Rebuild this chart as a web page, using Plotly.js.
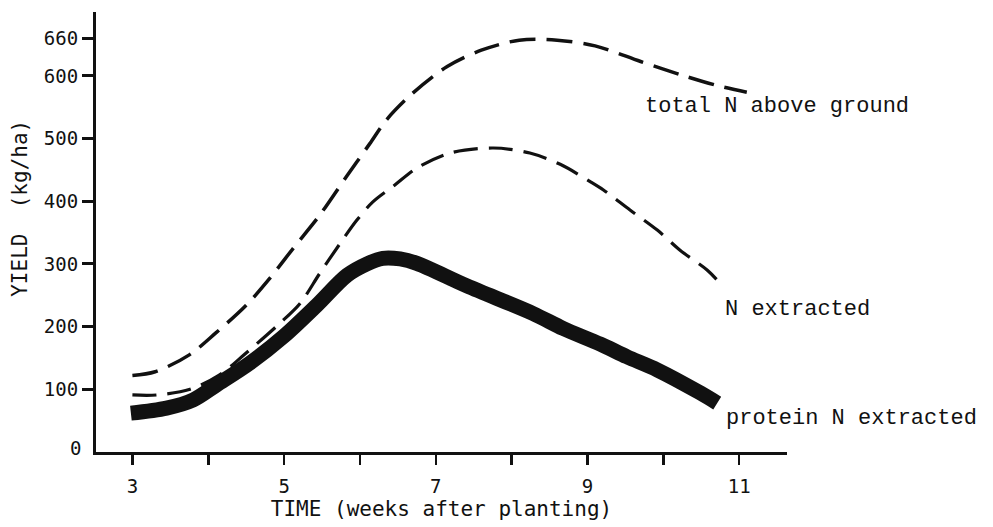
<!DOCTYPE html>
<html>
<head>
<meta charset="utf-8">
<script src="https://cdn.plot.ly/plotly-3.0.1.min.js"></script>
<style>html,body{margin:0;padding:0;background:#fff;}#chart{width:993px;height:527px;}</style>
</head>
<body>
<div id="chart"></div>
<script>
// Data (weeks after planting, kg/ha)
var totalWeeks = [3.0, 3.3, 3.75, 4.1, 4.5, 4.81, 5.12, 5.47, 5.82, 6.13, 6.35, 6.7, 7.15, 7.6, 8.1, 8.6, 9.1, 9.7, 10.25, 10.7, 11.1];
var totalN     = [122, 128, 155, 190, 234, 277, 325, 378, 439, 492, 530, 573, 615, 641, 657, 657, 648, 623, 601, 585, 574];

var extWeeks = [3.0, 3.32, 3.76, 4.15, 4.48, 4.94, 5.21, 5.47, 5.74, 5.96, 6.17, 6.46, 6.75, 7.19, 7.76, 8.24, 8.64, 9.04, 9.21, 9.56, 9.92, 10.22, 10.58, 10.75];
var extN     = [91, 91, 100, 123, 156, 205, 237, 285, 333, 370, 399, 426, 453, 477, 485, 477, 459, 431, 418, 386, 354, 322, 290, 269];

var protWeeks = [2.98, 3.45, 3.8, 4.11, 4.55, 4.99, 5.43, 5.83, 6.09, 6.3, 6.53, 6.75, 7.41, 8.28, 8.68, 9.17, 9.52, 9.92, 10.49, 10.71];
var protN     = [62, 70, 83, 107, 142, 184, 234, 282, 300, 309, 308, 301, 265, 221, 197, 172, 152, 131, 94, 78];

var xTickVals = [3, 4, 5, 6, 7, 8, 9, 10, 11];
var xTickText = ['3', '', '5', '', '7', '', '9', '', '11'];
var yTickVals = [100, 200, 300, 400, 500, 600, 660];
var yTickText = ['100', '200', '300', '400', '500', '600', '660'];

var labelTotal = 'total N above ground';
var labelExt = 'N extracted';
var labelProt = 'protein N extracted';

var ink = '#111111';
var tickFont = {family: 'DejaVu Sans Mono, monospace', size: 19, color: ink};
var noteFont = {family: 'Liberation Mono, Courier New, monospace', size: 22, color: ink};

var traces = [
  {x: totalWeeks, y: totalN, mode: 'lines', line: {color: ink, width: 3.5, dash: '26px,11px', shape: 'spline', smoothing: 0.9}, hoverinfo: 'skip'},
  {x: extWeeks, y: extN, mode: 'lines', line: {color: ink, width: 3.2, dash: '24px,11px', shape: 'spline', smoothing: 0.9}, hoverinfo: 'skip'},
  {x: protWeeks, y: protN, mode: 'lines', line: {color: ink, width: 15, shape: 'spline', smoothing: 0.9}, hoverinfo: 'skip'}
];

var layout = {
  width: 993, height: 527,
  margin: {l: 96, r: 206, t: 12, b: 75},
  paper_bgcolor: '#ffffff', plot_bgcolor: '#ffffff',
  showlegend: false,
  xaxis: {
    range: [2.52, 11.63], showgrid: false, zeroline: false,
    showline: true, linecolor: ink, linewidth: 3,
    ticks: 'outside', ticklen: 10, tickwidth: 2.5, tickcolor: ink,
    tickvals: xTickVals, ticktext: xTickText, tickfont: tickFont,
    ticklabelstandoff: 5,
    title: {text: 'TIME (weeks after planting)', font: {family: 'DejaVu Sans Mono, monospace', size: 21, color: ink}, standoff: 4}
  },
  yaxis: {
    range: [0, 702], showgrid: false, zeroline: false,
    showline: true, linecolor: ink, linewidth: 3,
    ticks: 'outside', ticklen: 11, tickwidth: 3, tickcolor: ink,
    tickvals: yTickVals, ticktext: yTickText, tickfont: tickFont
  },
  annotations: [
    {xref: 'paper', yref: 'paper', x: -0.11, y: 0.555, text: 'YIELD\u00a0\u00a0(kg/ha)', textangle: -90, showarrow: false, xanchor: 'center', yanchor: 'middle', font: {family: 'DejaVu Sans Mono, monospace', size: 21, color: ink}},
    {xref: 'paper', yref: 'y', x: 0, y: 0, text: '0', showarrow: false, xanchor: 'right', yanchor: 'middle', xshift: -13, yshift: 4, font: tickFont},
    {xref: 'x', yref: 'y', x: 9.73, y: 552, text: labelTotal, showarrow: false, xanchor: 'left', yanchor: 'middle', font: noteFont},
    {xref: 'x', yref: 'y', x: 10.785, y: 228, text: labelExt, showarrow: false, xanchor: 'left', yanchor: 'middle', font: noteFont},
    {xref: 'x', yref: 'y', x: 10.8, y: 54, text: labelProt, showarrow: false, xanchor: 'left', yanchor: 'middle', font: noteFont}
  ]
};

Plotly.newPlot('chart', traces, layout, {displayModeBar: false, staticPlot: true});
</script>
</body>
</html>
